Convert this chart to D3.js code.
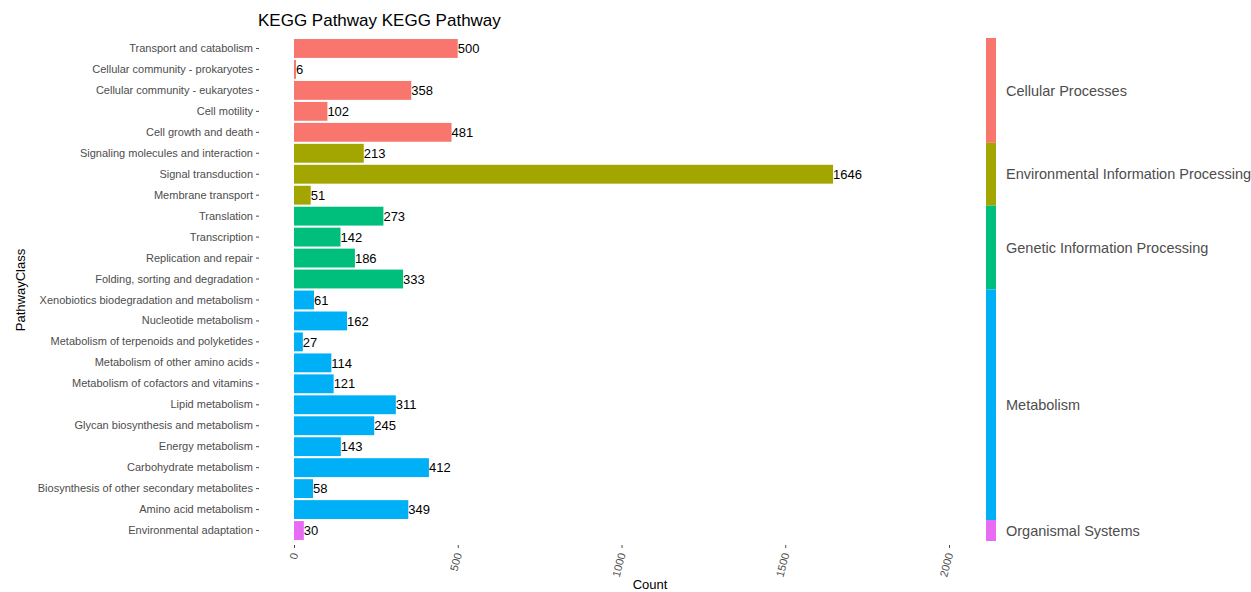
<!DOCTYPE html>
<html><head><meta charset="utf-8">
<script src="https://cdn.jsdelivr.net/npm/d3@7"></script>
<style>body{margin:0;background:#fff;font-family:"Liberation Sans",Arial,sans-serif;}</style>
</head><body><svg id="c" width="1251" height="592"></svg>
<script>
const pathways = ["Transport and catabolism","Cellular community - prokaryotes","Cellular community - eukaryotes","Cell motility","Cell growth and death","Signaling molecules and interaction","Signal transduction","Membrane transport","Translation","Transcription","Replication and repair","Folding, sorting and degradation","Xenobiotics biodegradation and metabolism","Nucleotide metabolism","Metabolism of terpenoids and polyketides","Metabolism of other amino acids","Metabolism of cofactors and vitamins","Lipid metabolism","Glycan biosynthesis and metabolism","Energy metabolism","Carbohydrate metabolism","Biosynthesis of other secondary metabolites","Amino acid metabolism","Environmental adaptation"];
const counts = [500,6,358,102,481,213,1646,51,273,142,186,333,61,162,27,114,121,311,245,143,412,58,349,30];
const classes = ["Cellular Processes","Cellular Processes","Cellular Processes","Cellular Processes","Cellular Processes","Environmental Information Processing","Environmental Information Processing","Environmental Information Processing","Genetic Information Processing","Genetic Information Processing","Genetic Information Processing","Genetic Information Processing","Metabolism","Metabolism","Metabolism","Metabolism","Metabolism","Metabolism","Metabolism","Metabolism","Metabolism","Metabolism","Metabolism","Organismal Systems"];
const classNames = ["Cellular Processes","Environmental Information Processing","Genetic Information Processing","Metabolism","Organismal Systems"];
const classColors = ["#F8766D","#A3A500","#00BF7D","#00B0F6","#E76BF3"];
const xTicks = [0,500,1000,1500,2000];

const svg = d3.select("#c");
const pL = 294, pR = 949, pT = 38, pB = 541;
const x = d3.scaleLinear().domain([0,2000]).range([pL,pR]);
const y = d3.scaleBand().domain(pathways).range([pT,pB]).paddingInner(0.1).paddingOuter(0.05);
const color = d3.scaleOrdinal().domain(classNames).range(classColors);

const data = pathways.map((p,i)=>({p, v:counts[i], c:classes[i]}));

svg.append("g").selectAll("rect").data(data).join("rect")
  .attr("x", x(0)).attr("y", d=>y(d.p)).attr("width", d=>x(d.v)-x(0)).attr("height", y.bandwidth())
  .attr("fill", d=>color(d.c));

svg.append("g").selectAll("text").data(data).join("text")
  .attr("x", d=>x(d.v)).attr("y", d=>y(d.p)+y.bandwidth()/2).attr("dy","0.36em")
  .attr("font-size",13).attr("fill","#000").text(d=>d.v);

// y axis
const ya = svg.append("g").attr("transform",`translate(${pL-35},0)`)
  .call(d3.axisLeft(y).tickSize(3).tickPadding(3));
ya.select(".domain").remove();
ya.selectAll(".tick line").attr("stroke","#4d4d4d");
ya.selectAll(".tick text").attr("font-size",11).attr("fill","#4d4d4d").attr("font-family","Liberation Sans, Arial, sans-serif");

// x axis
const xa = svg.append("g").attr("transform",`translate(0,${pB+4})`)
  .call(d3.axisBottom(x).tickValues(xTicks).tickSize(3).tickFormat(d3.format("d")));
xa.select(".domain").remove();
xa.selectAll(".tick line").attr("stroke","#4d4d4d");
xa.selectAll(".tick text").attr("font-size",11).attr("fill","#4d4d4d")
  .attr("font-family","Liberation Sans, Arial, sans-serif")
  .attr("text-anchor","end").attr("transform","translate(0,8) rotate(-75)").attr("x",0).attr("y",0).attr("dy","0.35em");

// titles
svg.append("text").attr("x",258).attr("y",26).attr("font-size",17).attr("fill","#000").text("KEGG Pathway KEGG Pathway");
svg.append("text").attr("x",650).attr("y",589).attr("text-anchor","middle").attr("font-size",13).attr("fill","#000").text("Count");
svg.append("text").attr("transform","translate(25,290) rotate(-90)").attr("text-anchor","middle").attr("font-size",13).attr("fill","#000").text("PathwayClass");

// class strip
const groups = classNames.map(c=>{
  const rows = data.filter(d=>d.c===c);
  const first = rows[0].p, last = rows[rows.length-1].p;
  const step = y.step();
  const y0 = first===pathways[0] ? pT : y(first) - step*0.05;
  const y1 = last===pathways[pathways.length-1] ? pB : y(last)+y.bandwidth()+step*0.05;
  return {c, y0, y1};
});
svg.append("g").selectAll("rect").data(groups).join("rect")
  .attr("x",986).attr("width",10).attr("y",d=>d.y0).attr("height",d=>d.y1-d.y0).attr("fill",d=>color(d.c));
svg.append("g").selectAll("text").data(groups).join("text")
  .attr("x",1006).attr("y",d=>(d.y0+d.y1)/2).attr("dy","0.36em").attr("font-size",14.5).attr("fill","#4d4d4d").text(d=>d.c);
</script></body></html>
